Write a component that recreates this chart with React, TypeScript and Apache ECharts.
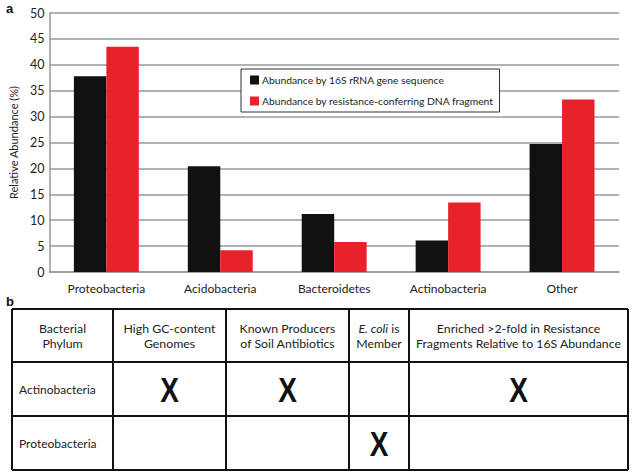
import React, { useEffect, useRef } from "react";
import * as echarts from "echarts";

const categories = ["Proteobacteria", "Acidobacteria", "Bacteroidetes", "Actinobacteria", "Other"];
const seriesNames = [
  "Abundance by 16S rRNA gene sequence",
  "Abundance by resistance-conferring DNA fragment",
];
const abundance16S = [37.8, 20.4, 11.2, 6.1, 24.7];
const abundanceResistance = [43.5, 4.2, 5.8, 13.4, 33.3];

const tableHeaders = [
  ["Bacterial", "Phylum"],
  ["High GC-content", "Genomes"],
  ["Known Producers", "of Soil Antibiotics"],
  ["E. coli is", "Member"],
  ["Enriched >2-fold in Resistance", "Fragments Relative to 16S Abundance"],
];
const tableRows = ["Actinobacteria", "Proteobacteria"];
const tableMarks = [
  [true, true, false, true],
  [false, false, true, false],
];

const FONT = "Lato";

export default function App() {
  const ref = useRef<HTMLDivElement>(null);
  useEffect(() => {
    if (!ref.current) return;
    const chart = echarts.init(ref.current, null, { renderer: "svg" });

    const colX = [12, 113, 226, 349, 409, 628];
    const rowY = [309, 362, 416, 470];
    const graphics: any[] = [];
    for (const x of colX) {
      graphics.push({
        type: "line",
        shape: { x1: x, y1: rowY[0], x2: x, y2: rowY[rowY.length - 1] },
        style: { stroke: "#111", lineWidth: 2 },
      });
    }
    for (const y of rowY) {
      graphics.push({
        type: "line",
        shape: { x1: colX[0], y1: y, x2: colX[colX.length - 1], y2: y },
        style: { stroke: "#111", lineWidth: 2 },
      });
    }
    const hs = 12.3;
    tableHeaders.forEach((lines, i) => {
      const cx = (colX[i] + colX[i + 1]) / 2;
      const cy = (rowY[0] + rowY[1]) / 2;
      if (i === 3) {
        graphics.push({
          type: "text",
          x: cx,
          y: cy - 7.5,
          style: {
            text: "{i|E. coli} is",
            fontFamily: FONT,
            fontSize: hs,
            fill: "#222",
            align: "center",
            verticalAlign: "middle",
            rich: { i: { fontStyle: "italic", fontFamily: FONT, fontSize: hs, fill: "#222" } },
          },
        });
        graphics.push({
          type: "text",
          x: cx,
          y: cy + 7.5,
          style: { text: lines[1], fontFamily: FONT, fontSize: hs, fill: "#222", align: "center", verticalAlign: "middle" },
        });
      } else {
        lines.forEach((t, k) => {
          graphics.push({
            type: "text",
            x: cx,
            y: cy - 7.5 + k * 15,
            style: { text: t, fontFamily: FONT, fontSize: hs, fill: "#222", align: "center", verticalAlign: "middle" },
          });
        });
      }
    });
    tableRows.forEach((name, r) => {
      const cy = (rowY[r + 1] + rowY[r + 2]) / 2;
      graphics.push({
        type: "text",
        x: 19,
        y: cy,
        style: { text: name, fontFamily: FONT, fontSize: 12, fill: "#222", align: "left", verticalAlign: "middle" },
      });
      tableMarks[r].forEach((m, c) => {
        if (!m) return;
        const cx = (colX[c + 1] + colX[c + 2]) / 2;
        graphics.push({
          type: "text",
          x: cx,
          y: cy + 1,
          scaleX: 0.8,
          style: {
            text: "X",
            fontFamily: "Liberation Sans",
            fontWeight: "bold",
            fontSize: 35,
            fill: "#111",
            align: "center",
            verticalAlign: "middle",
          },
        });
      });
    });
    graphics.push({
      type: "text",
      x: 6,
      y: 8,
      style: { text: "a", fontFamily: "Liberation Sans", fontWeight: "bold", fontSize: 13, fill: "#111", verticalAlign: "middle" },
    });
    graphics.push({
      type: "text",
      x: 6,
      y: 301,
      style: { text: "b", fontFamily: "Liberation Sans", fontWeight: "bold", fontSize: 13, fill: "#111", verticalAlign: "middle" },
    });

    chart.setOption({
      animation: false,
      textStyle: { fontFamily: FONT },
      grid: { left: 48, right: 16, top: 13, bottom: 204, containLabel: false },
      legend: {
        orient: "vertical",
        left: 241,
        top: 69,
        itemWidth: 9,
        itemHeight: 9,
        itemGap: 11,
        padding: [6, 6, 6, 9],
        borderColor: "#333",
        borderWidth: 1,
        backgroundColor: "#fff",
        icon: "rect",
        textStyle: { fontFamily: FONT, fontSize: 10.3, color: "#222", padding: [0, 0, 0, -2] },
        data: seriesNames,
      },
      xAxis: {
        type: "category",
        data: categories,
        axisLine: { lineStyle: { color: "#999", width: 1.5 } },
        axisTick: { show: false },
        axisLabel: { fontFamily: FONT, fontSize: 12, color: "#222", margin: 10 },
      },
      yAxis: {
        type: "value",
        min: 0,
        max: 50,
        interval: 5,
        name: "Relative Abundance (%)",
        nameLocation: "middle",
        nameGap: 26,
        nameTextStyle: { fontFamily: FONT, fontSize: 11, color: "#222" },
        axisLine: { show: true, lineStyle: { color: "#999", width: 1.5 } },
        axisTick: { show: false },
        axisLabel: { fontFamily: FONT, fontSize: 12.5, color: "#222", margin: 5 },
        splitLine: { lineStyle: { color: "#999", width: 1.5 } },
      },
      series: [
        {
          name: seriesNames[0],
          type: "bar",
          data: abundance16S,
          itemStyle: { color: "#111" },
          barGap: "0%",
          barCategoryGap: "43%",
        },
        {
          name: seriesNames[1],
          type: "bar",
          data: abundanceResistance,
          itemStyle: { color: "#e8222a" },
          barGap: "0%",
          barCategoryGap: "43%",
        },
      ],
      graphic: graphics,
    });
    return () => chart.dispose();
  }, []);
  return (
    <div
      ref={ref}
      style={{ position: "fixed", left: 0, top: 0, width: 635, height: 476, background: "#fff" }}
    />
  );
}
